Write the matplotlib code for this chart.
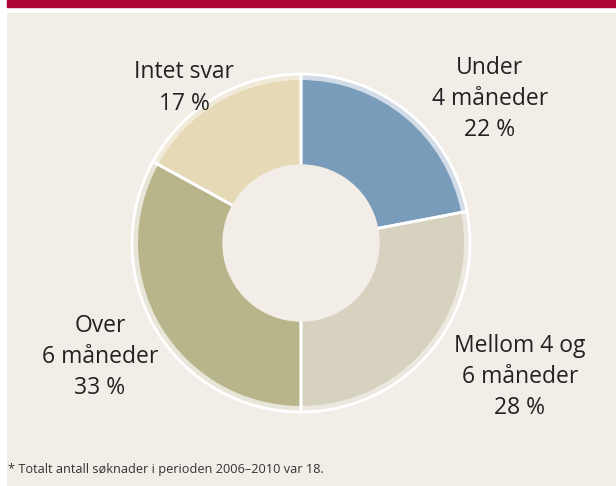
import matplotlib.pyplot as plt
from matplotlib.patches import Rectangle

plt.rcParams['font.family'] = ['Open Sans', 'DejaVu Sans']

# Data
categories = ['Under\n4 måneder', 'Mellom 4 og\n6 måneder', 'Over\n6 måneder', 'Intet svar']
shares = [22, 28, 33, 17]
colors = ['#789cba', '#d7d1bf', '#b8b58b', '#e6d9b6']
rim_colors = ['#d2dce6', '#ebe8df', '#e7e6d8', '#f1ead8']
label_pos = [(490, 99), (520, 377), (100, 357), (184, 88)]
footnote = '* Totalt antall søknader i perioden 2006–2010 var 18.'

W, H = 616, 486
fig = plt.figure(figsize=(W / 100, H / 100), dpi=100)
fig.patch.set_facecolor('white')
ax = fig.add_axes([0, 0, 1, 1])

# header bar and panel
ax.add_patch(Rectangle((7, H - 7), W - 7, 7, color='#ae0433', zorder=0))
ax.add_patch(Rectangle((7, 0), W - 7, H - 13, color='#f2ede6', zorder=0))

center = (301, H - 243)

# outer light rim
ax.pie(shares, colors=rim_colors, radius=169, center=center, startangle=90,
       counterclock=False, frame=True, wedgeprops=dict(linewidth=0))
# main donut
ax.pie(shares, colors=colors, radius=163, center=center, startangle=90,
       counterclock=False, frame=True, wedgeprops=dict(width=85, linewidth=0))
# white separators and outer outline
ax.pie(shares, radius=169, center=center, startangle=90,
       counterclock=False, frame=True,
       wedgeprops=dict(fill=False, edgecolor='white', linewidth=2))
ax.add_patch(plt.Circle(center, 78, color='#f2ede6', zorder=5))

ax.set_xlim(0, W)
ax.set_ylim(0, H)
ax.axis('off')

for cat, val, (x, y) in zip(categories, shares, label_pos):
    ax.text(x, H - y, f'{cat}\n{val} %', ha='center', va='center',
            fontsize=16.5, color='#222222', linespacing=1.4)

ax.text(8, H - 470, footnote, ha='left', va='center', fontsize=9.2,
        color='#333333')

fig.savefig('out.png', dpi=100)
